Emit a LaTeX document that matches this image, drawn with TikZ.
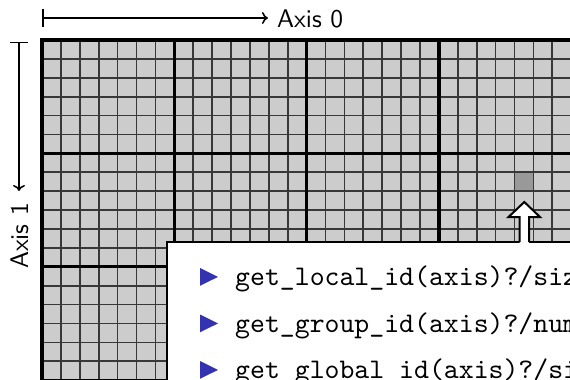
\documentclass[tikz,border=0pt]{standalone}
\usepackage{fontspec}
\newfontfamily\axisfont{lmsans10-regular.otf}
\newfontfamily\codefont{lmmono10-regular.otf}
\usetikzlibrary{arrows.meta}
\definecolor{cellgray}{gray}{0.8}
\definecolor{markgray}{gray}{0.6}
\definecolor{bulletblue}{rgb}{0.2,0.2,0.7}
\tikzset{
  thinline/.style={draw=black!78, line width=1.7pt},
  thickline/.style={draw=black, line width=3.3pt},
  axisarrow/.style={line width=1.5pt, {Bar[width=18pt]}-{Computer Modern Rightarrow[length=6pt,width=12pt]}},
  axislabel/.style={font=\axisfont\fontsize{25.5}{30}\selectfont, inner sep=0pt},
  codetext/.style={font=\codefont\fontsize{28.4}{34}\selectfont, inner sep=0pt, anchor=base west},
  infobox/.style={draw=black, line width=2pt, fill=white},
  bullet/.style={fill=bulletblue}
}
\begin{document}
\begin{tikzpicture}[x=1pt,y=-1pt]
\useasboundingbox (0,0) rectangle (570,380);
\clip (0,0) rectangle (570,380);
% grid
\fill[cellgray] (42,40) rectangle (600,400);
\fill[markgray] (42+25*18.9,40+7*18.9) rectangle ++(18.9,18.9);
\foreach \i in {0,...,29} {
  \draw[thinline] (42+\i*18.9,40) -- (42+\i*18.9,400);
}
\foreach \j in {0,...,19} {
  \draw[thinline] (42,40+\j*18.9) -- (600,40+\j*18.9);
}
\foreach \i in {0,7,14,21,28} {
  \draw[thickline] (42+\i*18.9,38.4) -- (42+\i*18.9,400);
}
\foreach \j in {0,6,12,18} {
  \draw[thickline] (40.4,40+\j*18.9) -- (600,40+\j*18.9);
}
% axes
\coordinate (a0s) at (42,18);
\coordinate (a0e) at (268,18);
\draw[axisarrow] (a0s) -- (a0e);
\node[axislabel, anchor=base west] (a0l) at (277,27.5) {Axis 0};
\coordinate (a1s) at (19,41.7);
\coordinate (a1e) at (19,191);
\draw[axisarrow] (a1s) -- (a1e);
\node[axislabel, rotate=90, anchor=base] (a1l) at (28,236) {Axis 1};
% info box
\draw[infobox] (167,242) rectangle (600,400);
% block arrow
\fill[white] (519.5,244) -- (519.5,217) -- (508.5,217) -- (524.3,202) -- (540,217) -- (529,217) -- (529,244) -- cycle;
\draw[line width=2pt, line join=miter] (519.5,242) -- (519.5,217) -- (508.5,217) -- (524.3,202) -- (540,217) -- (529,217) -- (529,242);
% items
\fill[bullet] (200,268) -- (218,276.9) -- (200,285.8) -- cycle;
\node[codetext] (item1) at (235,285.5) {get\_local\_id(axis)?/siz};
\fill[bullet] (200,314.5) -- (218,323.4) -- (200,332.3) -- cycle;
\node[codetext] (item2) at (235,332) {get\_group\_id(axis)?/num};
\fill[bullet] (200,361) -- (218,369.9) -- (200,378.8) -- cycle;
\node[codetext] (item3) at (235,378.5) {get\_global\_id(axis)?/siz};
\end{tikzpicture}
\end{document}
